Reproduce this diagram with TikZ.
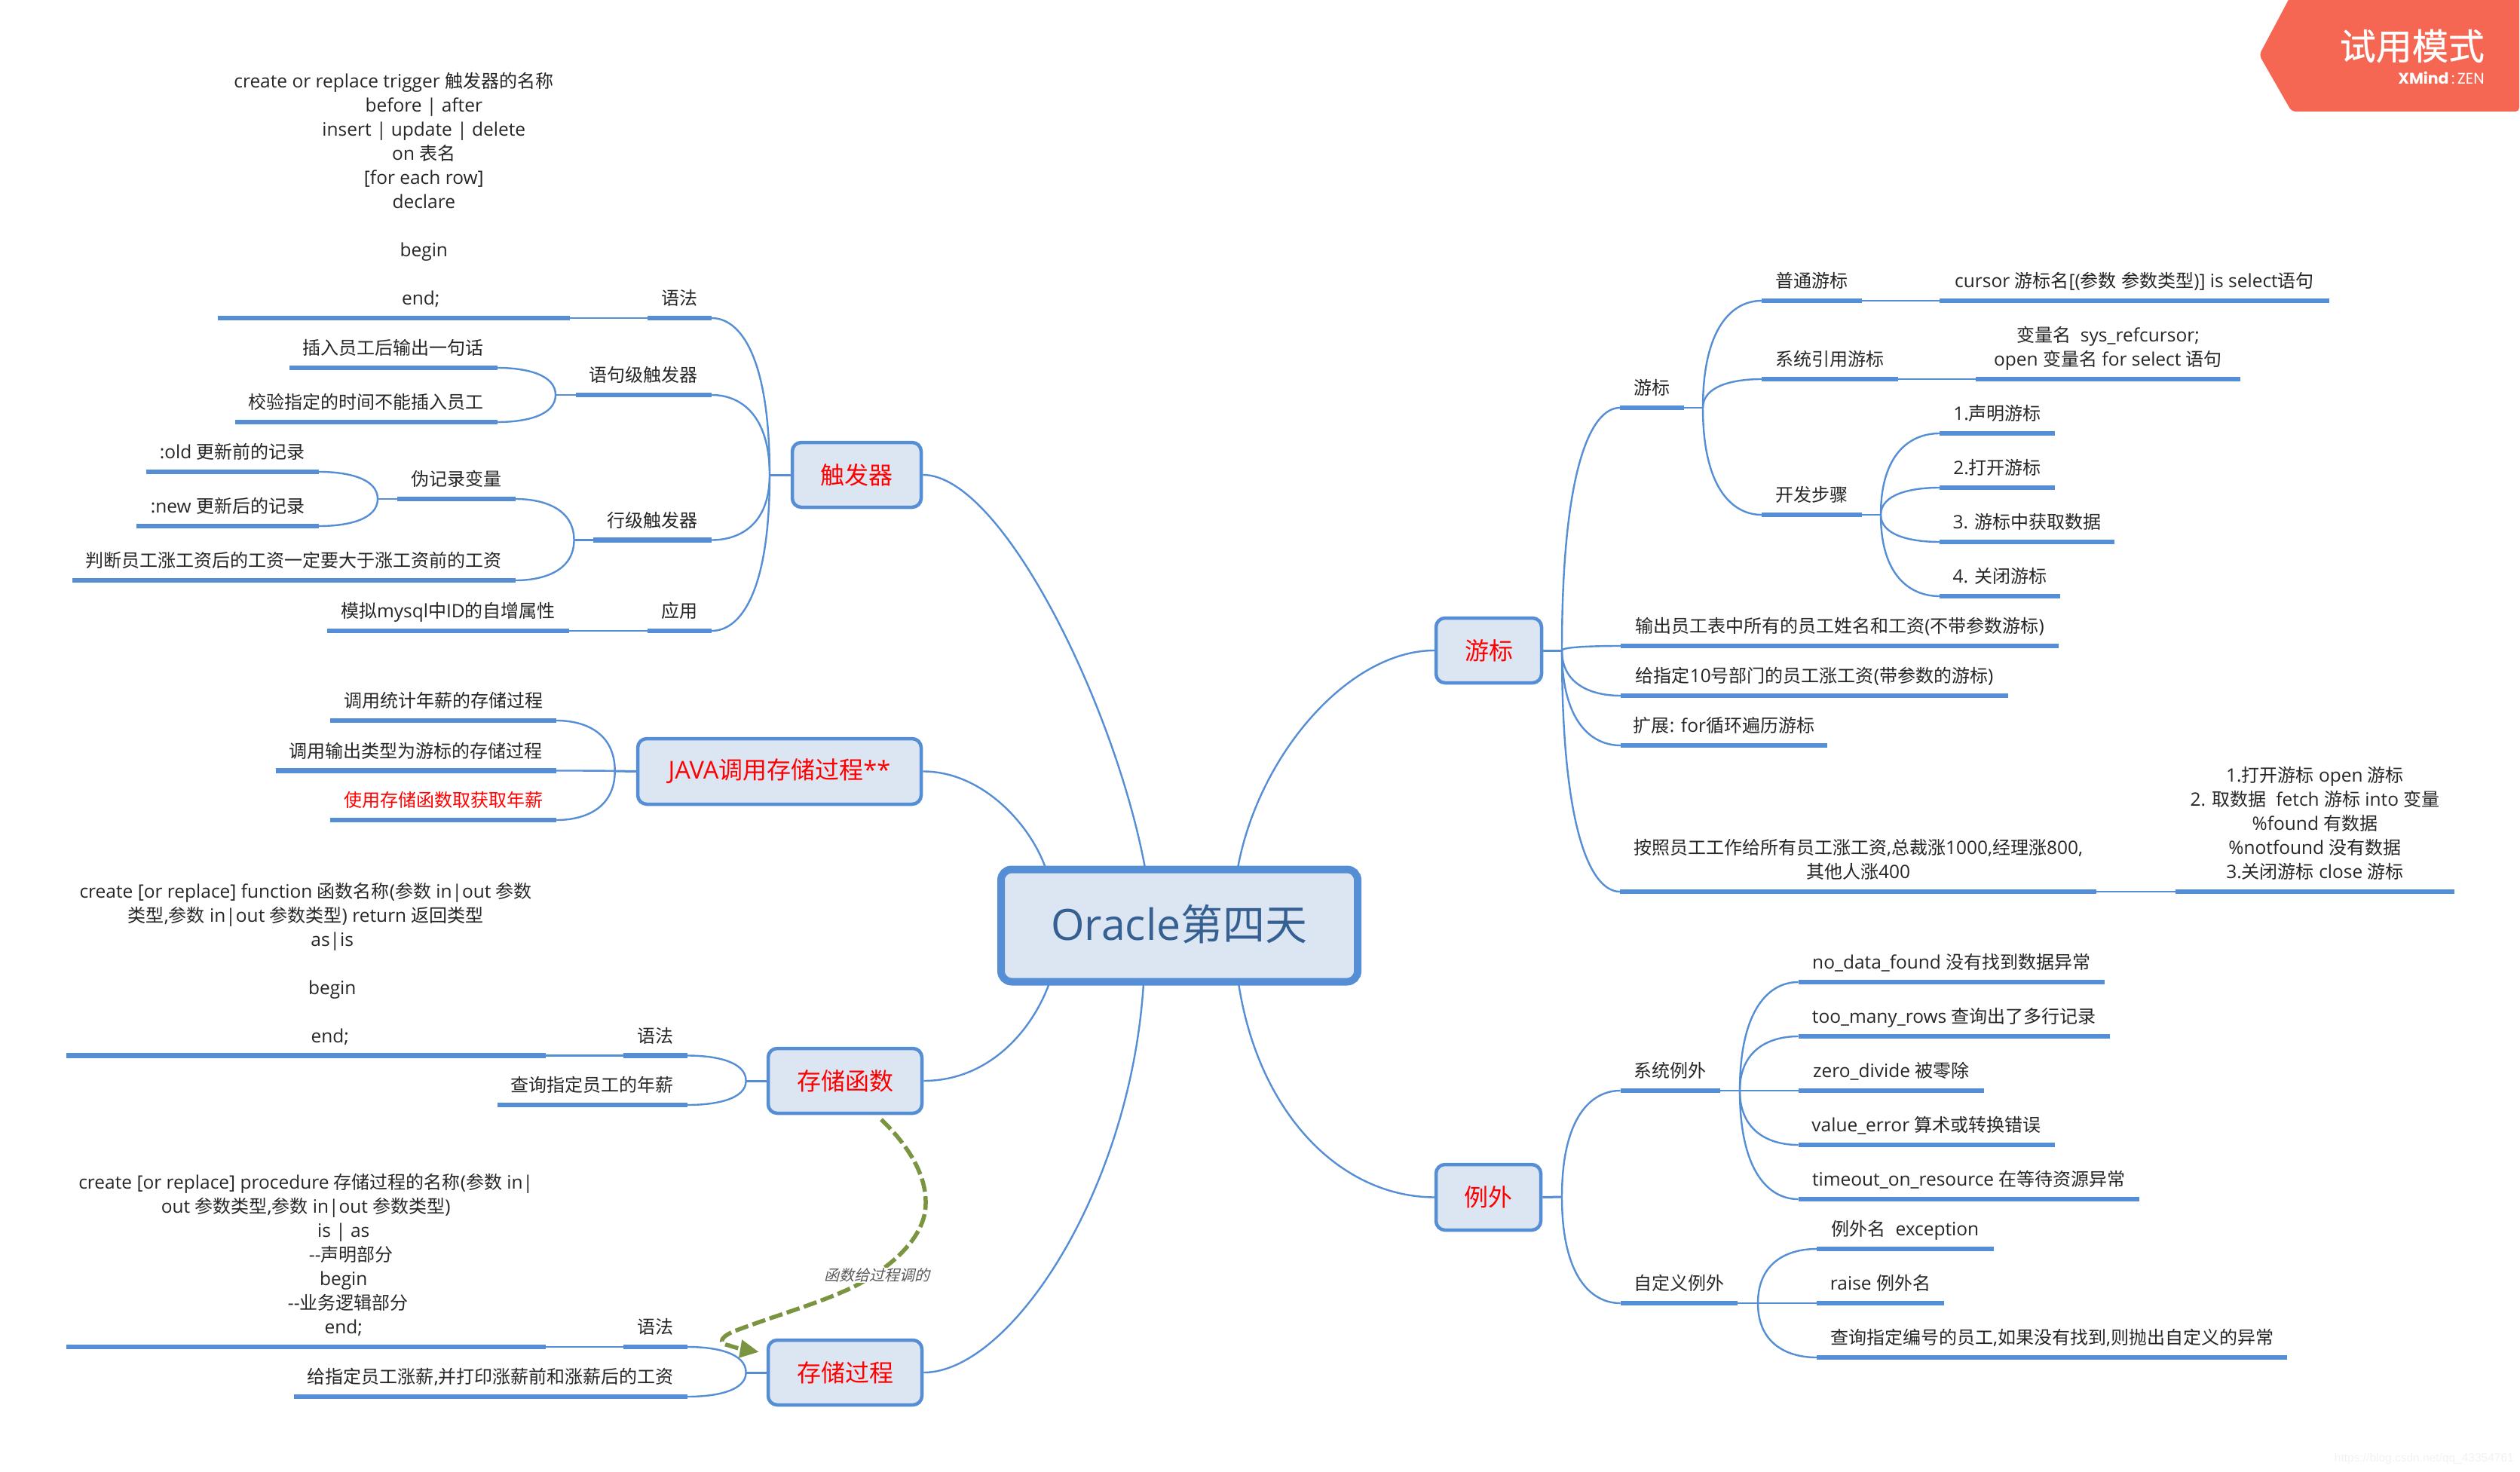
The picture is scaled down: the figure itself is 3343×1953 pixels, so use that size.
\documentclass[tikz,border=0pt]{standalone}
\usepackage{fontspec}
\usetikzlibrary{calc,arrows.meta}
\setmainfont[Scale=1.02]{Open Sans}
\newfontfamily\cjkf{Noto Sans CJK SC}
\newfontfamily\cjkslant[FakeSlant=0.25]{Noto Sans CJK SC}
\newfontfamily\cjkheavy[FakeBold=0.6]{Noto Sans CJK SC}
\newfontfamily\badgef{Poppins}
\newfontfamily\markf{Liberation Sans}
\let\cjkcurrent\cjkf
\XeTeXinterchartokenstate=1
\newXeTeXintercharclass\CJKcl
\count255="4E00
\loop\XeTeXcharclass\count255=\CJKcl\ifnum\count255<"9FFF\advance\count255 by 1\repeat
\XeTeXinterchartoks 0 \CJKcl={\begingroup\cjkcurrent}
\XeTeXinterchartoks \CJKcl 0={\endgroup}
\XeTeXinterchartoks 4095 \CJKcl={\begingroup\cjkcurrent}
\XeTeXinterchartoks \CJKcl 4095={\endgroup}
\definecolor{mapblue}{HTML}{558ED5}
\definecolor{mapfill}{HTML}{DCE6F2}
\definecolor{maptext}{HTML}{262626}
\definecolor{centertext}{HTML}{366092}
\definecolor{relgreen}{HTML}{7B9440}
\definecolor{badgered}{HTML}{F56752}
\tikzset{
  topicnode/.style={anchor=south,inner sep=0pt,outer sep=0pt,align=center,text=maptext,
    font=\fontsize{24}{32}\selectfont\lineskiplimit-100pt},
  under/.style={draw=mapblue,line width=6.5pt},
  link/.style={draw=mapblue,line width=2.4pt},
  stub/.style={draw=mapblue,line width=3pt},
  mainbox/.style={draw=mapblue,fill=mapfill,line width=4.5pt,rounded corners=12pt,inner sep=0pt,
    text=red,font=\fontsize{32}{38}\selectfont},
  centerbox/.style={draw=mapblue,fill=mapfill,line width=10pt,rounded corners=14pt,inner sep=0pt,
    text=centertext,font=\fontsize{56}{60}\selectfont},
  rel/.style={draw=relgreen,line width=5.5pt,dash pattern=on 18pt off 6pt},
}
% [opts]{name}{x1}{x2}{y}{text}
\newcommand\tp[6][]{%
  \node[topicnode,#1,minimum width={#4pt-#3pt}] (#2) at ({(#3+#4)/2},#5) {#6\rule[-17.5pt]{0pt}{1pt}};
  \draw[under] (#2.south west) -- (#2.south east);
}
\newcommand\lnk[2]{\draw[link] (#1) .. controls ($(#1)!.75!(#1|-#2)$) and ($(#2)!.5!(#1|-#2)$) .. (#2);}
\newcommand\shft[2]{\mbox{\hspace*{#1pt}#2}}
\begin{document}
\begin{tikzpicture}[x=1pt,y=-1pt]
\useasboundingbox (0,0) rectangle (3343,1953);

% central and main topics
\node[centerbox,minimum width=473pt,minimum height=149pt] (center) at (1564.5,1228) {\raisebox{8pt}{Oracle第四天}};
\node[mainbox,minimum width=171pt,minimum height=86pt] (trig) at (1136.5,630) {触发器};
\node[mainbox,minimum width=376pt,minimum height=87pt] (java) at (1034,1023.5) {JAVA调用存储过程**};
\node[mainbox,minimum width=204pt,minimum height=86pt] (func) at (1121,1434) {存储函数};
\node[mainbox,minimum width=204pt,minimum height=86pt] (proc) at (1121,1821) {存储过程};
\node[mainbox,minimum width=140pt,minimum height=86pt] (curs) at (1975,863) {\raisebox{2pt}{游标}};
\node[mainbox,minimum width=139pt,minimum height=87pt] (exc) at (1974.5,1588.5) {例外};

\draw[link] (trig.east) .. controls (1330,630) and (1480,940) .. ($(center.north)+(-45.5,3)$);
\draw[link] (java.east) .. controls (1300,1023) and (1365,1090) .. ($(center.north)+(-177.5,3)$);
\draw[link] (func.east) .. controls (1310,1434) and (1368,1370) .. ($(center.south)+(-172.5,-3)$);
\draw[link] (proc.east) .. controls (1340,1821) and (1500,1580) .. ($(center.south)+(-47.5,-3)$);
\draw[link] (curs.west) .. controls (1790,863) and (1670,1000) .. ($(center.north)+(77.5,3)$);
\draw[link] (exc.west) .. controls (1780,1588) and (1670,1480) .. ($(center.south)+(78.5,-3)$);

% trigger
\coordinate (jt) at (1021,630);
\draw[stub] (trig.west) -- (jt);
\tp{tsyn}{859}{944}{422}{语法}
\tp{tsynb}{289}{755.6}{422}{create or replace trigger 触发器的名称\\
\shft{80}{before | after}\\\shft{80}{insert | update | delete}\\\shft{80}{on 表名}\\\shft{80}{[for each row]}\\\shft{80}{declare}\\\mbox{}\\\shft{80}{begin}\\\mbox{}\\\shft{72}{end;}}
\draw[link] (tsyn.south west) -- (tsynb.south east);
\tp{tstm}{763.5}{944}{524}{语句级触发器}
\tp{trow}{787}{944}{716.5}{行级触发器}
\tp{tapp}{859}{944}{837}{应用}
\tp{tappb}{433.5}{755.4}{837}{模拟mysql中ID的自增属性}
\draw[link] (tapp.south west) -- (tappb.south east);
\lnk{jt}{tsyn.south east}\lnk{jt}{tstm.south east}\lnk{jt}{trow.south east}\lnk{jt}{tapp.south east}

\coordinate (js) at (737,524);
\draw[link] (tstm.south west) -- (js);
\tp{ts1}{383.5}{659.5}{488}{插入员工后输出一句话}
\tp{ts2}{311.5}{659.5}{560}{校验指定的时间不能插入员工}
\lnk{js}{ts1.south east}\lnk{js}{ts2.south east}

\coordinate (jr) at (761.5,716.5);
\draw[link] (trow.south west) -- (jr);
\tp{tr1}{527}{683.5}{662}{伪记录变量}
\tp{tr2}{96}{683.5}{770}{判断员工涨工资后的工资一定要大于涨工资前的工资}
\lnk{jr}{tr1.south east}\lnk{jr}{tr2.south east}
\coordinate (jp) at (501,662);
\draw[link] (tr1.south west) -- (jp);
\tp{tp1}{193.7}{423}{626}{:old 更新前的记录}
\tp{tp2}{181}{423}{698}{:new 更新后的记录}
\lnk{jp}{tp1.south east}\lnk{jp}{tp2.south east}

% java
\coordinate (jj) at (815.7,1023);
\draw[stub] (java.west) -- (jj);
\tp{j1}{438}{738}{956}{调用统计年薪的存储过程}
\tp{j2}{365.6}{738}{1022.5}{调用输出类型为游标的存储过程}
\tp[text=red]{j3}{438}{738}{1088}{使用存储函数取获取年薪}
\lnk{jj}{j1.south east}\lnk{jj}{j2.south east}\lnk{jj}{j3.south east}

% function
\coordinate (jf) at (989.6,1434);
\draw[stub] (func.west) -- (jf);
\tp{fsyn}{827}{912}{1400.5}{语法}
\tp{fsynb}{87.5}{724}{1400.5}{create [or replace] function 函数名称(参数 in|out 参数\\
类型,参数 in|out 参数类型) return 返回类型\\\shft{70}{as|is}\\\mbox{}\\\shft{70}{begin}\\\mbox{}\\\shft{64}{end;}}
\draw[link] (fsyn.south west) -- (fsynb.south east);
\tp{fq}{659.5}{912}{1466}{查询指定员工的年薪}
\lnk{jf}{fsyn.south east}\lnk{jf}{fq.south east}

% procedure
\coordinate (jq) at (989.6,1821);
\draw[stub] (proc.west) -- (jq);
\tp{psyn}{827}{912}{1787}{语法}
\tp{psynb}{87.5}{724}{1787}{create [or replace] procedure 存储过程的名称(参数 in|\\
out 参数类型,参数 in|out 参数类型)\\\shft{100}{is | as}\\\shft{120}{-{}-声明部分}\\\shft{100}{begin}\\\shft{112}{-{}-业务逻辑部分}\\\shft{100}{end;}}
\draw[link] (psyn.south west) -- (psynb.south east);
\tp{pq}{389.5}{912}{1853}{给指定员工涨薪,并打印涨薪前和涨薪后的工资}
\lnk{jq}{psyn.south east}\lnk{jq}{pq.south east}

% cursor
\coordinate (jc) at (2072,863);
\draw[stub] (curs.east) -- (jc);
\tp{c1}{2149}{2234}{541}{游标}
\tp{c2}{2150}{2731}{857}{输出员工表中所有的员工姓名和工资(不带参数游标)}
\tp{c3}{2150}{2664}{923}{给指定10号部门的员工涨工资(带参数的游标)}
\tp{c4}{2150}{2424}{989}{扩展: for循环遍历游标}
\tp{c5}{2149}{2781}{1183}{按照员工工作给所有员工涨工资,总裁涨1000,经理涨800,\\其他人涨400}
\lnk{jc}{c1.south west}\lnk{jc}{c2.south west}\lnk{jc}{c3.south west}\lnk{jc}{c4.south west}\lnk{jc}{c5.south west}
\tp{c5b}{2886}{3256}{1183}{1.打开游标 open 游标\\2. 取数据\ \ fetch 游标 into 变量\\\%found 有数据\\\%notfound 没有数据\\3.关闭游标 close 游标}
\draw[link] (c5.south east) -- (c5b.south west);

\coordinate (jc1) at (2259,541);
\draw[link] (c1.south east) -- (jc1);
\tp{d1}{2337}{2470}{399}{普通游标}
\tp{d2}{2337}{2518}{503}{系统引用游标}
\tp{d3}{2337}{2470}{683}{开发步骤}
\lnk{jc1}{d1.south west}\lnk{jc1}{d2.south west}\lnk{jc1}{d3.south west}
\tp{d1b}{2573}{3090}{399}{cursor 游标名[(参数 参数类型)] is select语句}
\draw[link] (d1.south east) -- (d1b.south west);
\tp{d2b}{2621}{2972}{503}{变量名\ \ sys\_refcursor;\\open 变量名 for select 语句}
\draw[link] (d2.south east) -- (d2b.south west);
\coordinate (jd3) at (2495,683);
\draw[link] (d3.south east) -- (jd3);
\tp{e1}{2573}{2726}{575}{1.声明游标}
\tp{e2}{2573}{2726}{647}{2.打开游标}
\tp{e3}{2573}{2805}{719}{3. 游标中获取数据}
\tp{e4}{2573}{2733}{791}{4. 关闭游标}
\lnk{jd3}{e1.south west}\lnk{jd3}{e2.south west}\lnk{jd3}{e3.south west}\lnk{jd3}{e4.south west}

% exceptions
\coordinate (jx) at (2072,1588);
\draw[stub] (exc.east) -- (jx);
\tp{x1}{2149.5}{2281.5}{1447}{系统例外}
\tp{x2}{2149.5}{2305}{1729}{自定义例外}
\lnk{jx}{x1.south west}\lnk{jx}{x2.south west}
\coordinate (jx1) at (2308,1447);
\draw[link] (x1.south east) -- (jx1);
\tp{y1}{2385.5}{2792}{1303}{no\_data\_found 没有找到数据异常}
\tp{y2}{2385.5}{2799}{1375}{too\_many\_rows 查询出了多行记录}
\tp{y3}{2385.5}{2632}{1447}{zero\_divide 被零除}
\tp{y4}{2385.5}{2725.5}{1519}{value\_error 算术或转换错误}
\tp{y5}{2385.5}{2838}{1591}{timeout\_on\_resource 在等待资源异常}
\lnk{jx1}{y1.south west}\lnk{jx1}{y2.south west}\lnk{jx1}{y3.south west}\lnk{jx1}{y4.south west}\lnk{jx1}{y5.south west}
\coordinate (jx2) at (2332,1729);
\draw[link] (x2.south east) -- (jx2);
\tp{z1}{2410}{2645}{1657}{例外名\ \ exception}
\tp{z2}{2410}{2579}{1729}{raise 例外名}
\tp{z3}{2410}{3034}{1801}{查询指定编号的员工,如果没有找到,则抛出自定义的异常}
\lnk{jx2}{z1.south west}\lnk{jx2}{z2.south west}\lnk{jx2}{z3.south west}

% relationship
\draw[rel,-{Triangle[length=25pt,width=23pt,fill=relgreen]}]
  ($(func.south)+(48,6)$) .. controls (1200,1515) and (1229,1555) .. (1228,1597)
  .. controls (1228,1640) and (1185,1680) .. (1133,1707)
  .. controls (1090,1728) and (1030,1745) .. (977,1765)
  .. controls (958,1772) and (950,1782) .. (967,1785)
  .. controls (975,1788) and (985,1790) .. ($(proc.north west)+(-10,18)$);
\node[fill=white,inner sep=1pt,text=black!65,font=\fontsize{20}{24}\selectfont\let\cjkcurrent\cjkslant] (rellabel) at (1163,1692) {函数给过程调的};

% trial badge
\fill[badgered,rounded corners=5pt] (2997,73) -- (3040,-8) -- (3342,-8) -- (3342,148) -- (3040,148) -- cycle;
\node[text=white,inner sep=0pt,anchor=east,font=\fontsize{48}{52}\selectfont\let\cjkcurrent\cjkheavy] (badge1) at (3296,61) {试用模式};
\node[text=white,inner sep=0pt,anchor=east,font=\fontsize{20.5}{22}\badgef] (badge2) at (3296,103) {\textbf{XMind}\,:\,ZEN};
% watermark
\node[text=black!5,inner sep=0pt,anchor=east,font=\fontsize{15.5}{18}\markf] (mark) at (3335,1935) {https://blog.csdn.net/qq\_43354761};
\end{tikzpicture}
\end{document}
